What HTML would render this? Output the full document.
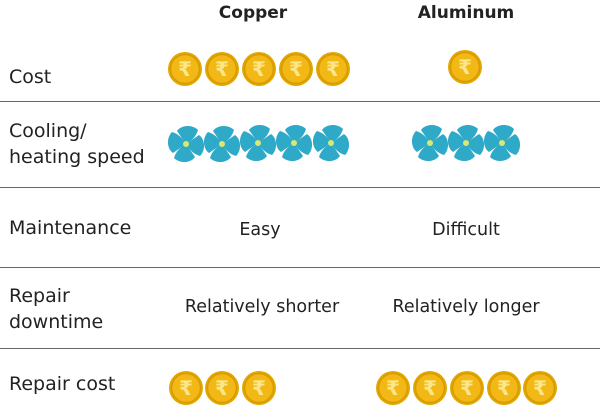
<!DOCTYPE html>
<html><head><meta charset="utf-8"><style>
body{margin:0;width:600px;height:409px;background:#fff;position:relative;overflow:hidden;font-family:"DejaVu Sans","Liberation Sans",sans-serif;color:#222}
.t{position:absolute;font-size:19px;line-height:26px;white-space:nowrap}
.h{font-weight:bold;font-size:17px}
.c{text-align:center;transform:translateX(-50%)}
.ln{position:absolute;left:0;width:600px;height:1px;background:#666}
svg{position:absolute;left:0;top:0}
</style></head><body>
<div class="t h c" style="left:253px;top:0">Copper</div>
<div class="t h c" style="left:466px;top:0">Aluminum</div>
<div class="t" style="left:9px;top:64px">Cost</div>
<div class="t" style="left:9px;top:118px">Cooling/<br>heating speed</div>
<div class="t" style="left:9px;top:215px">Maintenance</div>
<div class="t" style="left:9px;top:283px">Repair<br>downtime</div>
<div class="t" style="left:9px;top:371px">Repair cost</div>
<div class="t c" style="left:260px;top:217px;font-size:17.5px">Easy</div>
<div class="t c" style="left:466px;top:217px;font-size:17.5px">Difficult</div>
<div class="t c" style="left:262px;top:294px;font-size:17.5px">Relatively shorter</div>
<div class="t c" style="left:466px;top:294px;font-size:17.5px">Relatively longer</div>
<div class="ln" style="top:101px"></div>
<div class="ln" style="top:187px"></div>
<div class="ln" style="top:267px"></div>
<div class="ln" style="top:348px"></div>
<svg width="600" height="409">
<defs>
<g id="coin"><circle r="17" fill="#e0a800"/><circle r="14.5" fill="#f2b815" stroke="#d99a00" stroke-width="1.5"/>
<text x="0" y="7" font-size="20" font-weight="bold" text-anchor="middle" fill="#fce68a" font-family="DejaVu Sans">₹</text></g>
<path id="bl" d="M0 0 L-9 -13 C-5 -19 6 -20 12 -14 C10 -7 5 -3 0 0Z"/>
<g id="fan"><g fill="#2fa9c8">
<use href="#bl"/><use href="#bl" transform="rotate(90)"/><use href="#bl" transform="rotate(180)"/><use href="#bl" transform="rotate(270)"/></g>
<circle r="3" fill="#d8e870"/></g>
</defs>
<use href="#coin" x="185" y="69"/><use href="#coin" x="222" y="69"/><use href="#coin" x="259" y="69"/><use href="#coin" x="296" y="69"/><use href="#coin" x="333" y="69"/>
<use href="#coin" x="465" y="67"/>
<use href="#fan" x="186" y="144"/><use href="#fan" x="222" y="144"/><use href="#fan" x="258" y="143"/><use href="#fan" x="294" y="143"/><use href="#fan" x="331" y="143"/>
<use href="#fan" x="430" y="143"/><use href="#fan" x="466" y="143"/><use href="#fan" x="502" y="143"/>
<use href="#coin" x="186" y="388"/><use href="#coin" x="222" y="388"/><use href="#coin" x="259" y="388"/>
<use href="#coin" x="393" y="388"/><use href="#coin" x="430" y="388"/><use href="#coin" x="467" y="388"/><use href="#coin" x="504" y="388"/><use href="#coin" x="540" y="388"/>
</svg>
</body></html>
